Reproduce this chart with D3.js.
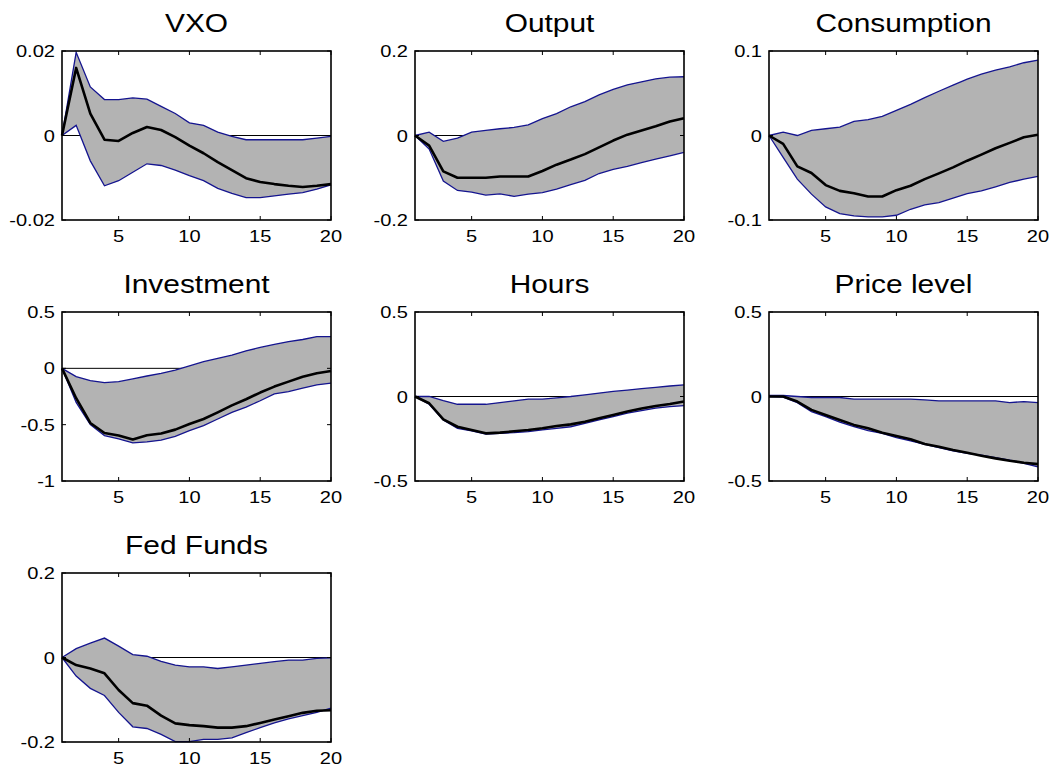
<!DOCTYPE html>
<html>
<head>
<meta charset="utf-8">
<script src="https://cdn.jsdelivr.net/npm/d3@7"></script>
<style>
  html, body { margin: 0; padding: 0; background: #fff; }
  svg { display: block; }
  text { font-family: "Liberation Sans", Arial, sans-serif; fill: #000; }
</style>
</head>
<body>
<svg id="chart" width="1057" height="771"></svg>
<script>
// Impulse responses to an uncertainty shock: median and error bands, horizons 1..20
const horizons = d3.range(1, 21);
const xTicks = [5, 10, 15, 20];

const vxoMean  = [0, 0.0160, 0.0052, -0.0010, -0.0013, 0.0006, 0.0020, 0.0013, -0.0004, -0.0024, -0.0042, -0.0063, -0.0082, -0.0101, -0.0110, -0.0115, -0.0119, -0.0122, -0.0119, -0.0115];
const vxoUpper = [0, 0.0197, 0.0115, 0.0085, 0.0085, 0.0089, 0.0086, 0.0069, 0.0052, 0.0030, 0.0024, 0.0008, -0.0002, -0.0010, -0.0010, -0.0010, -0.0010, -0.0010, -0.0006, -0.0002];
const vxoLower = [0, 0.0024, -0.0060, -0.0119, -0.0107, -0.0087, -0.0067, -0.0071, -0.0082, -0.0095, -0.0107, -0.0125, -0.0137, -0.0147, -0.0147, -0.0143, -0.0139, -0.0135, -0.0127, -0.0117];

const outputMean  = [0, -0.024, -0.085, -0.100, -0.100, -0.100, -0.097, -0.097, -0.097, -0.084, -0.069, -0.057, -0.044, -0.028, -0.012, 0.002, 0.012, 0.022, 0.033, 0.041];
const outputUpper = [0, 0.008, -0.014, -0.006, 0.008, 0.012, 0.016, 0.019, 0.025, 0.040, 0.052, 0.068, 0.080, 0.096, 0.109, 0.120, 0.127, 0.134, 0.138, 0.139];
const outputLower = [0, -0.032, -0.108, -0.130, -0.134, -0.141, -0.138, -0.144, -0.139, -0.135, -0.127, -0.116, -0.106, -0.090, -0.080, -0.073, -0.064, -0.056, -0.048, -0.040];

const consMean  = [0, -0.0099, -0.0365, -0.0444, -0.0587, -0.0655, -0.0683, -0.0722, -0.0722, -0.0647, -0.0595, -0.0516, -0.0448, -0.0377, -0.0298, -0.0226, -0.0151, -0.0087, -0.0020, 0.0008];
const consUpper = [0, 0.0040, 0.0000, 0.0060, 0.0080, 0.0099, 0.0167, 0.0187, 0.0226, 0.0298, 0.0369, 0.0448, 0.0524, 0.0595, 0.0667, 0.0726, 0.0774, 0.0813, 0.0861, 0.0893];
const consLower = [0, -0.0258, -0.0516, -0.0694, -0.0845, -0.0925, -0.0952, -0.0964, -0.0964, -0.0944, -0.0873, -0.0821, -0.0794, -0.0742, -0.0687, -0.0655, -0.0607, -0.0556, -0.0516, -0.0484];

const invMean  = [0, -0.265, -0.485, -0.574, -0.597, -0.632, -0.594, -0.579, -0.544, -0.494, -0.450, -0.391, -0.329, -0.274, -0.215, -0.162, -0.118, -0.074, -0.044, -0.024];
const invUpper = [0, -0.074, -0.109, -0.126, -0.118, -0.094, -0.068, -0.044, -0.015, 0.021, 0.059, 0.088, 0.118, 0.156, 0.185, 0.212, 0.238, 0.256, 0.282, 0.282];
const invLower = [0, -0.303, -0.500, -0.597, -0.626, -0.662, -0.653, -0.638, -0.603, -0.553, -0.509, -0.450, -0.391, -0.344, -0.288, -0.226, -0.206, -0.176, -0.147, -0.132];

const hoursMean  = [0, -0.040, -0.135, -0.179, -0.198, -0.218, -0.214, -0.206, -0.198, -0.188, -0.175, -0.165, -0.149, -0.129, -0.109, -0.089, -0.071, -0.056, -0.044, -0.030];
const hoursUpper = [0, 0.000, -0.024, -0.046, -0.046, -0.046, -0.036, -0.026, -0.016, -0.016, -0.008, 0.000, 0.010, 0.020, 0.030, 0.038, 0.046, 0.054, 0.062, 0.069];
const hoursLower = [0, -0.046, -0.139, -0.188, -0.204, -0.222, -0.218, -0.214, -0.208, -0.198, -0.188, -0.179, -0.159, -0.139, -0.119, -0.099, -0.083, -0.069, -0.060, -0.054];

const priceMean  = [0, 0, -0.030, -0.079, -0.109, -0.139, -0.168, -0.188, -0.214, -0.234, -0.253, -0.281, -0.297, -0.317, -0.333, -0.350, -0.366, -0.380, -0.392, -0.400];
const priceUpper = [0.006, 0.006, 0.000, -0.006, -0.006, -0.006, -0.016, -0.016, -0.016, -0.016, -0.016, -0.020, -0.026, -0.026, -0.026, -0.026, -0.026, -0.036, -0.030, -0.036];
const priceLower = [0, -0.004, -0.036, -0.089, -0.119, -0.152, -0.178, -0.202, -0.218, -0.244, -0.263, -0.283, -0.303, -0.321, -0.337, -0.347, -0.362, -0.376, -0.396, -0.416];

const ffMean  = [0, -0.018, -0.026, -0.0375, -0.077, -0.108, -0.114, -0.1375, -0.156, -0.160, -0.1625, -0.166, -0.166, -0.1625, -0.155, -0.147, -0.139, -0.131, -0.126, -0.125];
const ffUpper = [0, 0.021, 0.034, 0.046, 0.027, 0.007, 0.003, -0.009, -0.018, -0.022, -0.022, -0.026, -0.022, -0.018, -0.014, -0.010, -0.006, -0.006, -0.002, -0.001];
const ffLower = [0, -0.044, -0.073, -0.090, -0.130, -0.164, -0.168, -0.182, -0.199, -0.199, -0.194, -0.194, -0.190, -0.178, -0.166, -0.155, -0.145, -0.1375, -0.130, -0.120];

const titles = ["VXO", "Output", "Consumption", "Investment", "Hours", "Price level", "Fed Funds"];
const yTickValues = [
  [-0.02, 0, 0.02],
  [-0.2, 0, 0.2],
  [-0.1, 0, 0.1],
  [-1, -0.5, 0, 0.5],
  [-0.5, 0, 0.5],
  [-0.5, 0, 0.5],
  [-0.2, 0, 0.2]
];
const meanSeries  = [vxoMean, outputMean, consMean, invMean, hoursMean, priceMean, ffMean];
const upperSeries = [vxoUpper, outputUpper, consUpper, invUpper, hoursUpper, priceUpper, ffUpper];
const lowerSeries = [vxoLower, outputLower, consLower, invLower, hoursLower, priceLower, ffLower];

// Grid geometry (3 columns)
const colLeft = [62, 415, 769];
const rowTop = [51, 312, 573];
const panelW = 269, panelH = 169;

const svg = d3.select("#chart");
const bandFill = "#b3b3b3";
const edgeColor = "#14148f";
const labelStretch = 1.18;   // glyphs are drawn slightly wide
const titleStretch = 1.15;

titles.forEach((title, i) => {
  const col = i % 3, row = Math.floor(i / 3);
  const g = svg.append("g").attr("transform", `translate(${colLeft[col]},${rowTop[row]})`);
  const ticks = yTickValues[i];

  const x = d3.scaleLinear().domain([1, 20]).range([0, panelW]);
  const y = d3.scaleLinear().domain(d3.extent(ticks)).range([panelH, 0]);

  const pts = horizons.map((h, k) => ({ h, m: meanSeries[i][k], u: upperSeries[i][k], l: lowerSeries[i][k] }));

  // zero reference line
  g.append("line")
    .attr("x1", x(1)).attr("x2", x(20))
    .attr("y1", y(0)).attr("y2", y(0))
    .attr("stroke", "#000").attr("stroke-width", 1);

  // shaded error band
  g.append("path").datum(pts)
    .attr("d", d3.area().x(d => x(d.h)).y0(d => y(d.l)).y1(d => y(d.u)))
    .attr("fill", bandFill).attr("stroke", "none");

  // band edges
  [d => d.u, d => d.l].forEach(acc => {
    g.append("path").datum(pts)
      .attr("d", d3.line().x(d => x(d.h)).y(d => y(acc(d))))
      .attr("fill", "none").attr("stroke", edgeColor).attr("stroke-width", 1.3);
  });

  // median response
  g.append("path").datum(pts)
    .attr("d", d3.line().x(d => x(d.h)).y(d => y(d.m)))
    .attr("fill", "none").attr("stroke", "#000").attr("stroke-width", 2.6)
    .attr("stroke-linejoin", "round");

  // inward tick marks on all four sides
  const tl = 4;
  const tickG = g.append("g").attr("stroke", "#000").attr("stroke-width", 1);
  xTicks.forEach(t => {
    tickG.append("line").attr("x1", x(t)).attr("x2", x(t)).attr("y1", panelH).attr("y2", panelH - tl);
    tickG.append("line").attr("x1", x(t)).attr("x2", x(t)).attr("y1", 0).attr("y2", tl);
  });
  ticks.forEach(t => {
    tickG.append("line").attr("x1", 0).attr("x2", tl).attr("y1", y(t)).attr("y2", y(t));
    tickG.append("line").attr("x1", panelW).attr("x2", panelW - tl).attr("y1", y(t)).attr("y2", y(t));
  });

  // frame
  g.append("rect")
    .attr("x", 0).attr("y", 0).attr("width", panelW).attr("height", panelH)
    .attr("fill", "none").attr("stroke", "#000").attr("stroke-width", 1.6);

  // tick labels
  g.selectAll("text.xl").data(xTicks).enter().append("text")
    .attr("transform", d => `translate(${x(d)},${panelH + 22}) scale(${labelStretch},1)`)
    .attr("text-anchor", "middle").attr("font-size", 17)
    .text(d => String(d));
  g.selectAll("text.yl").data(ticks).enter().append("text")
    .attr("transform", d => `translate(-7,${y(d)}) scale(${labelStretch},1)`)
    .attr("dy", "0.36em")
    .attr("text-anchor", "end").attr("font-size", 17)
    .text(d => String(d));

  // panel title
  g.append("text")
    .attr("transform", `translate(${panelW / 2},-19) scale(${titleStretch},1)`)
    .attr("text-anchor", "middle").attr("font-size", 26)
    .text(title);
});
</script>
</body>
</html>
